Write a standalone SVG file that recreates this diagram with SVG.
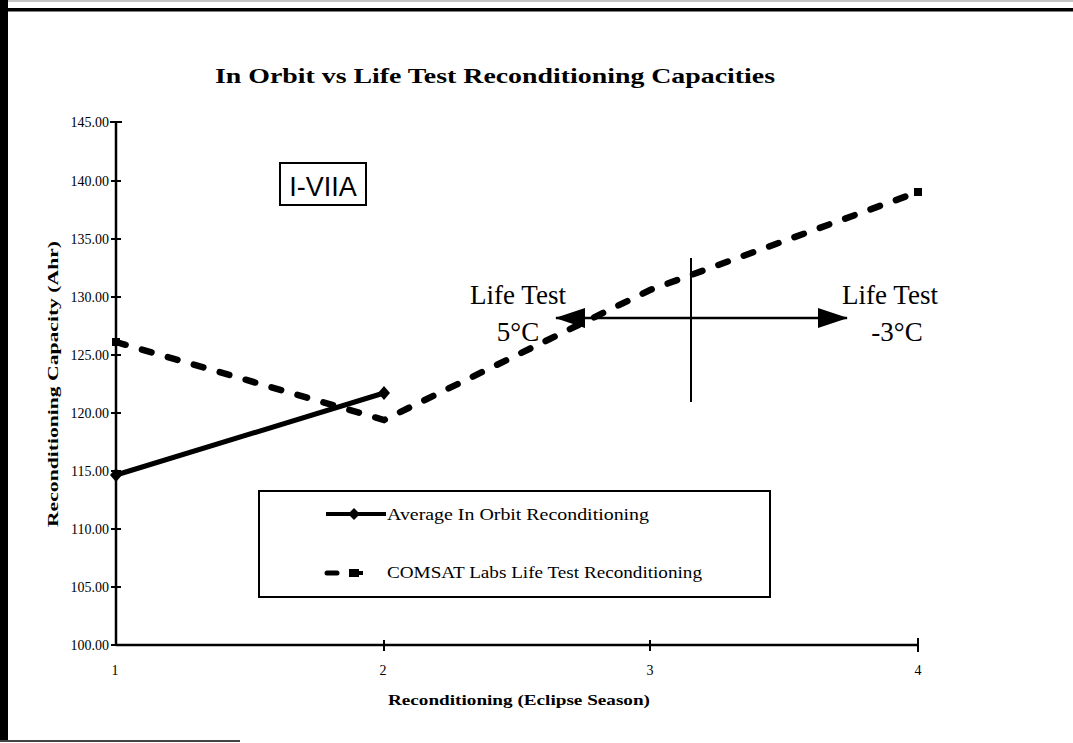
<svg xmlns="http://www.w3.org/2000/svg" width="1073" height="743" viewBox="0 0 1073 743">
<style>
.t{font-family:"Liberation Serif",serif;fill:#000}
.tick{font-size:14px}
.ax{stroke:#000;stroke-width:2.5;fill:none}
.tk{stroke:#000;stroke-width:2;fill:none}
.big{font-size:27px}
</style>
<defs>
<marker id="ah" viewBox="0 0 30 20" refX="29" refY="10" markerWidth="30" markerHeight="20" markerUnits="userSpaceOnUse" orient="auto-start-reverse">
<path d="M0,0 L30,10 L0,20 Z" fill="#000"/>
</marker>
</defs>
<rect width="1073" height="743" fill="#fff"/>
<g id="border">
<rect x="0" y="0" width="8" height="742" fill="#000"/>
<rect x="8" y="8" width="1065" height="3.5" fill="#000"/>
<line x1="8" y1="1" x2="1073" y2="1" stroke="#888" stroke-width="1"/>
<line x1="0" y1="741" x2="240" y2="741" stroke="#444" stroke-width="2"/>
</g>
<text id="title" class="t" x="495" y="83" font-size="21" font-weight="bold" text-anchor="middle" textLength="560" lengthAdjust="spacingAndGlyphs">In Orbit vs Life Test Reconditioning Capacities</text>
<g id="axes">
<line class="ax" x1="116" y1="122" x2="116" y2="645"/>
<line class="ax" x1="116" y1="645" x2="918" y2="645"/>
<g class="tk">
<line x1="110" y1="122" x2="122" y2="122"/>
<line x1="111" y1="181" x2="121" y2="181"/>
<line x1="111" y1="239" x2="121" y2="239"/>
<line x1="111" y1="297" x2="121" y2="297"/>
<line x1="111" y1="355" x2="121" y2="355"/>
<line x1="111" y1="413" x2="121" y2="413"/>
<line x1="111" y1="471" x2="121" y2="471"/>
<line x1="111" y1="529" x2="121" y2="529"/>
<line x1="111" y1="587" x2="121" y2="587"/>
<line x1="111" y1="645" x2="121" y2="645"/>
<line x1="384" y1="640" x2="384" y2="651"/>
<line x1="650" y1="640" x2="650" y2="651"/>
<line x1="918" y1="638" x2="918" y2="652"/>
</g>
<g class="t tick" text-anchor="end" font-size="14">
<text x="109" y="127">145.00</text>
<text x="109" y="186">140.00</text>
<text x="109" y="244">135.00</text>
<text x="109" y="302">130.00</text>
<text x="109" y="360">125.00</text>
<text x="109" y="418">120.00</text>
<text x="109" y="476">115.00</text>
<text x="109" y="534">110.00</text>
<text x="109" y="592">105.00</text>
<text x="109" y="650">100.00</text>
</g>
<g class="t tick" text-anchor="middle" font-size="14">
<text x="115" y="675">1</text>
<text x="383" y="675">2</text>
<text x="650" y="675">3</text>
<text x="918" y="675">4</text>
</g>
<text class="t" x="519" y="705" font-size="14" font-weight="bold" text-anchor="middle" textLength="262" lengthAdjust="spacingAndGlyphs">Reconditioning (Eclipse Season)</text>
<text class="t" transform="translate(58,384) rotate(-90)" font-size="14" font-weight="bold" text-anchor="middle" textLength="286" lengthAdjust="spacingAndGlyphs">Reconditioning Capacity (Ahr)</text>
</g>
<g id="series-orbit">
<polyline points="116,475 384,393" fill="none" stroke="#000" stroke-width="5" stroke-linecap="round"/>
<path d="M116,468 L122,475 L116,482 L110,475 Z" fill="#000"/>
<path d="M384,386 L390,393 L384,400 L378,393 Z" fill="#000"/>
</g>
<g id="series-lifetest">
<polyline points="116,342 384,420 650,290 918,192" fill="none" stroke="#000" stroke-width="6.5" stroke-linecap="round" stroke-dasharray="10 17"/>
<rect x="112" y="338" width="8" height="8" fill="#000"/>
<rect x="914" y="188" width="8" height="8" fill="#000"/>
</g>
<g id="label-box">
<rect x="280" y="163" width="86" height="42" fill="none" stroke="#000" stroke-width="2"/>
<text x="323" y="196" font-family="Liberation Sans,sans-serif" font-size="27" text-anchor="middle">I-VIIA</text>
</g>
<g id="annotation">
<line x1="691" y1="258" x2="691" y2="402" stroke="#000" stroke-width="2"/>
<line x1="556" y1="318" x2="847" y2="318" stroke="#000" stroke-width="2.5" marker-start="url(#ah)" marker-end="url(#ah)"/>
<text class="t big" x="518" y="304" text-anchor="middle">Life Test</text>
<text class="t big" x="518" y="341" text-anchor="middle">5°C</text>
<text class="t big" x="890" y="304" text-anchor="middle">Life Test</text>
<text class="t big" x="897" y="341" text-anchor="middle">-3°C</text>
</g>
<g id="legend">
<rect x="259" y="491" width="511" height="106" fill="none" stroke="#000" stroke-width="2"/>
<line x1="326" y1="514" x2="386" y2="514" stroke="#000" stroke-width="4"/>
<path d="M354,508 L360,514 L354,520 L348,514 Z" fill="#000"/>
<text class="t" x="387" y="520" font-size="16" textLength="262" lengthAdjust="spacingAndGlyphs">Average In Orbit Reconditioning</text>
<line x1="327" y1="573" x2="337" y2="573" stroke="#000" stroke-width="5" stroke-linecap="round"/>
<rect x="349" y="569" width="10" height="8" fill="#000"/>
<line x1="358" y1="573" x2="363" y2="573" stroke="#000" stroke-width="4"/>
<text class="t" x="387" y="578" font-size="16" textLength="315" lengthAdjust="spacingAndGlyphs">COMSAT Labs Life Test Reconditioning</text>
</g>
</svg>
